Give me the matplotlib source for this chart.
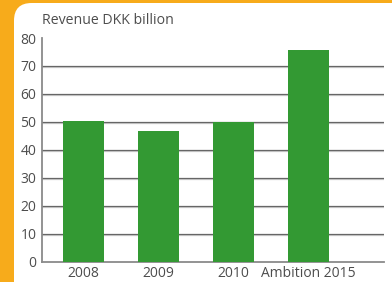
import matplotlib.pyplot as plt
import matplotlib.patheffects as pe
from matplotlib.patches import FancyBboxPatch

categories = ["2008", "2009", "2010", "Ambition 2015"]
revenue = [50.2, 46.7, 49.8, 75.6]
yticks = [0, 10, 20, 30, 40, 50, 60, 70, 80]

plt.rcParams["font.family"] = ["Open Sans", "DejaVu Sans"]

fig = plt.figure(figsize=(3.92, 2.82), dpi=100)
fig.patch.set_facecolor("#F7AB1B")

# white rounded panel on the orange frame
panel = FancyBboxPatch(
    (14 / 392, -0.2), 1.2, 1.2 - 3 / 282,
    boxstyle="round,pad=0,rounding_size=0.045",
    transform=fig.transFigure, facecolor="white", edgecolor="none",
    mutation_aspect=392 / 282, zorder=-10,
)
fig.patches.append(panel)

ax = fig.add_axes([42 / 392, 1 - 261.5 / 282, (384 - 42) / 392, (261.5 - 38) / 282])
ax.set_facecolor("none")

x = range(len(categories))
ax.bar(x, revenue, width=0.547, color="#339933", zorder=3)

for v in yticks[1:-1]:
    ax.axhline(
        v, color="#666666", linewidth=0.9, zorder=1,
        path_effects=[pe.SimpleLineShadow(offset=(0, -1.0), shadow_color="#c8c8c8", alpha=0.9), pe.Normal()],
    )

ax.set_xlim(-0.553, 4.007)
ax.set_ylim(0, 80)
ax.set_yticks(yticks)
ax.set_xticks(list(x))
ax.set_xticklabels(categories)

for side in ["top", "right"]:
    ax.spines[side].set_visible(False)
for side in ["left", "bottom"]:
    ax.spines[side].set_color("#8a8a8a")
    ax.spines[side].set_linewidth(1.3)

ax.tick_params(axis="both", length=0, labelsize=10, colors="#4d4d4d")
ax.tick_params(axis="y", pad=4)
ax.tick_params(axis="x", pad=3)

fig.text(42 / 392, 1 - 20 / 282, "Revenue DKK billion", fontsize=10.2,
         color="#4d4d4d", va="center", ha="left")

fig.savefig("out.png", dpi=100, facecolor=fig.get_facecolor())
